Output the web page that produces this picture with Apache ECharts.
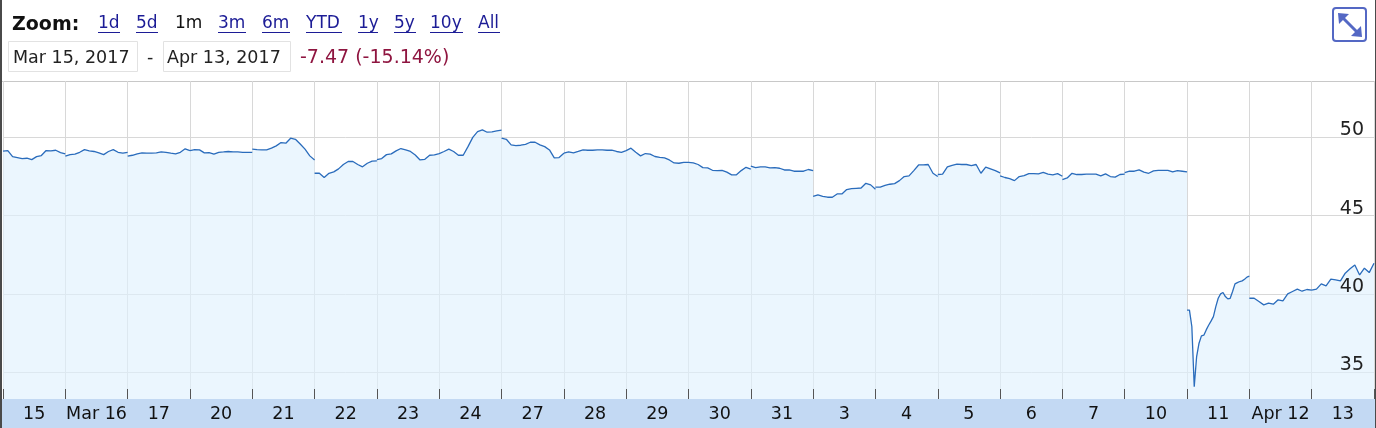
<!DOCTYPE html>
<html><head><meta charset="utf-8">
<style>html,body{margin:0;padding:0;background:#fff}#c{width:1376px;height:428px}</style>
<script src="https://cdn.jsdelivr.net/npm/echarts@6/dist/echarts.min.js"></script>
</head><body><div id="c"></div>
<script>
const dayLabels=['15','Mar 16','17','20','21','22','23','24','27','28','29','30','31','3','4','5','6','7','10','11','Apr 12','13'];
const yTicks=[35,40,45,50];
const zoomLinks=[['1d',98,true],['5d',136,true],['1m',175,false],['3m',218,true],['6m',262,true],['YTD',306,true],['1y',358,true],['5y',394,true],['10y',430,true],['All',478,true]];
const d0=[49.12,49.16,48.77,48.71,48.65,48.67,48.58,48.77,48.84,49.16,49.14,49.18,49.03,48.95];
const d1=[48.8,48.9,48.93,49.05,49.22,49.14,49.1,49.01,48.9,49.1,49.22,49.05,48.99,49.05];
const d2=[48.8,48.86,48.95,49.01,48.99,48.99,49.01,49.07,49.05,48.99,48.95,49.05,49.27,49.16];
const d3=[49.16,49.22,49.2,49.01,49.03,48.93,49.05,49.07,49.1,49.07,49.07,49.05,49.05,49.05];
const d4=[49.25,49.22,49.2,49.2,49.31,49.46,49.67,49.63,49.95,49.88,49.58,49.25,48.82,48.56];
const d5=[47.71,47.71,47.44,47.71,47.8,47.99,48.27,48.46,48.46,48.27,48.12,48.35,48.48,48.5];
const d6=[48.58,48.65,48.9,48.95,49.14,49.29,49.2,49.1,48.88,48.56,48.6,48.86,48.88,48.97];
const d7=[48.97,49.1,49.25,49.1,48.86,48.86,49.41,50.0,50.37,50.48,50.33,50.35,50.41,50.46];
const d8=[49.95,49.88,49.52,49.48,49.5,49.56,49.69,49.69,49.52,49.41,49.2,48.69,48.71,48.99];
const d9=[48.99,49.07,49.01,49.1,49.2,49.18,49.18,49.2,49.2,49.18,49.18,49.1,49.05,49.16];
const d10=[49.16,49.31,49.05,48.82,48.97,48.93,48.78,48.73,48.69,48.56,48.37,48.35,48.41,48.41];
const d11=[48.41,48.37,48.27,48.07,48.05,47.9,47.88,47.9,47.78,47.61,47.61,47.88,48.09,47.97];
const d12=[48.16,48.07,48.12,48.12,48.05,48.07,48.03,47.92,47.92,47.84,47.84,47.84,47.95,47.88];
const d13=[46.24,46.33,46.24,46.18,46.18,46.39,46.39,46.67,46.73,46.75,46.77,47.07,46.97,46.69];
const d14=[46.82,46.82,46.93,47.01,47.05,47.24,47.5,47.54,47.88,48.24,48.24,48.27,47.71,47.5];
const d15=[47.63,47.65,48.12,48.22,48.29,48.27,48.27,48.2,48.27,47.71,48.1,47.99,47.88,47.73];
const d16=[47.54,47.44,47.37,47.24,47.5,47.56,47.69,47.69,47.67,47.76,47.65,47.61,47.69,47.52];
const d17=[47.31,47.41,47.71,47.63,47.63,47.65,47.65,47.65,47.54,47.67,47.5,47.46,47.63,47.65];
const d18=[47.75,47.84,47.84,47.93,47.78,47.71,47.86,47.9,47.9,47.9,47.8,47.88,47.84,47.8];
const d19=[38.97,38.97,37.93,34.08,36.01,36.86,37.33,37.37,37.71,38.01,38.27,38.56,39.2,39.73,40.01,40.1,39.84,39.69,39.73,40.16,40.65,40.73,40.8,40.84,40.95,41.08,41.14];
const d20=[39.73,39.73,39.52,39.31,39.42,39.35,39.63,39.56,40.01,40.16,40.31,40.18,40.29,40.25];
const d21=[40.25,40.31,40.65,40.52,40.95,40.91,40.84,41.33,41.61,41.86,41.22,41.65,41.37,41.97];
const days=[d0,d1,d2,d3,d4,d5,d6,d7,d8,d9,d10,d11,d12,d13,d14,d15,d16,d17,d18,d19,d20,d21];

const pts=[];
days.forEach((vals,d)=>{
  vals.forEach((v,i)=>pts.push([d+i/(vals.length-1),v]));
  pts.push([d+1,null]);
});

const FONT='"DejaVu Sans",Verdana,sans-serif';
const LINK='#1c1c96';
const g=[];
g.push({type:'rect',silent:true,z:0,shape:{x:0,y:399,width:1376,height:29},style:{fill:'#c3d9f3'}});
g.push({type:'line',silent:true,z:0,shape:{x1:0,y1:81.5,x2:1376,y2:81.5},style:{stroke:'#c8c8c8',lineWidth:1}});
g.push({type:'rect',silent:true,z:9,shape:{x:0,y:0,width:2,height:428},style:{fill:'#4a4a4a'}});
g.push({type:'rect',silent:true,z:9,shape:{x:1375,y:0,width:1,height:428},style:{fill:'#4a4a4a'}});
g.push({type:'text',z:5,style:{x:12,y:25,text:'Zoom:',font:'bold 19px '+FONT,fill:'#111',verticalAlign:'middle'}});
zoomLinks.forEach(([t,x,isLink])=>{
  g.push({type:'text',z:5,style:{x:x,y:24,text:t,font:'17px '+FONT,fill:isLink?LINK:'#111',verticalAlign:'middle'}});
});
[[98,120],[136,158],[218,246],[262,290],[306,342],[358,378],[394,416],[430,463],[478,500]].forEach(([a,b])=>{
  g.push({type:'line',silent:true,z:5,shape:{x1:a,y1:32.5,x2:b,y2:32.5},style:{stroke:LINK,lineWidth:1}});
});
g.push({type:'rect',silent:true,z:4,shape:{x:8.5,y:41.5,width:129,height:30},style:{fill:'#fff',stroke:'#e2e2e2'}});
g.push({type:'rect',silent:true,z:4,shape:{x:163.5,y:41.5,width:127,height:30},style:{fill:'#fff',stroke:'#e2e2e2'}});
g.push({type:'text',z:5,style:{x:13,y:58,text:'Mar 15, 2017',font:'17.5px '+FONT,fill:'#222',verticalAlign:'middle'}});
g.push({type:'text',z:5,style:{x:147,y:58,text:'-',font:'17.5px '+FONT,fill:'#222',verticalAlign:'middle'}});
g.push({type:'text',z:5,style:{x:167,y:58,text:'Apr 13, 2017',font:'17.5px '+FONT,fill:'#222',verticalAlign:'middle'}});
g.push({type:'text',z:5,style:{x:300,y:58,text:'-7.47 (-15.14%)',font:'19px '+FONT,fill:'#8f1540',verticalAlign:'middle'}});
const IC='#5468c4';
g.push({type:'rect',silent:true,z:5,shape:{x:1333,y:8,width:33,height:33,r:3},style:{fill:'#fff',stroke:IC,lineWidth:2}});
g.push({type:'line',silent:true,z:6,shape:{x1:1342,y1:17,x2:1358,y2:33},style:{stroke:IC,lineWidth:3}});
g.push({type:'polygon',silent:true,z:6,shape:{points:[[1338,13],[1349,14],[1339,24]]},style:{fill:IC}});
g.push({type:'polygon',silent:true,z:6,shape:{points:[[1362,37],[1351,36],[1361,26]]},style:{fill:IC}});

const chart=echarts.init(document.getElementById('c'),null,{renderer:'canvas'});
chart.setOption({
  animation:false,
  graphic:g,
  grid:{left:3,right:2,top:81,bottom:29},
  xAxis:[
    {type:'category',data:dayLabels,boundaryGap:true,z:6,
     axisLine:{show:false},
     axisTick:{show:true,inside:true,length:10,alignWithLabel:false,lineStyle:{color:'#555'}},
     axisLabel:{interval:0,fontFamily:FONT,fontSize:17.5,color:'#111',margin:5,lineHeight:20,verticalAlign:'top'},
     splitLine:{show:false}},
    {type:'category',data:dayLabels,boundaryGap:true,z:1,
     axisLine:{show:false},axisTick:{show:false},axisLabel:{show:false},
     splitLine:{show:true,interval:0,lineStyle:{color:'#d8d8d8',width:1}}},
    {type:'value',min:0,max:days.length,show:false}
  ],
  yAxis:[
    {type:'value',position:'right',min:33.3,max:53.6,z:1,
     axisLine:{show:false},axisTick:{show:false,customValues:yTicks},
     axisLabel:{show:false,customValues:yTicks},
     splitLine:{show:true,lineStyle:{color:'#d8d8d8',width:1}}},
    {type:'value',position:'right',min:33.3,max:53.6,z:8,
     axisLine:{show:false},axisTick:{show:false,customValues:yTicks},
     axisLabel:{inside:true,customValues:yTicks,fontFamily:FONT,fontSize:19,color:'#222',margin:10,align:'right',verticalAlign:'bottom',lineHeight:18,padding:[0,0,-2,0],showMinLabel:true,showMaxLabel:true},
     splitLine:{show:false}}
  ],
  series:[{type:'line',xAxisIndex:2,yAxisIndex:0,data:pts,showSymbol:false,symbol:'none',connectNulls:false,smooth:false,
    lineStyle:{color:'#2a6cbc',width:1.3},
    areaStyle:{origin:'start',opacity:1,color:'rgba(224,241,254,0.65)'},z:3}]
});
</script></body></html>
